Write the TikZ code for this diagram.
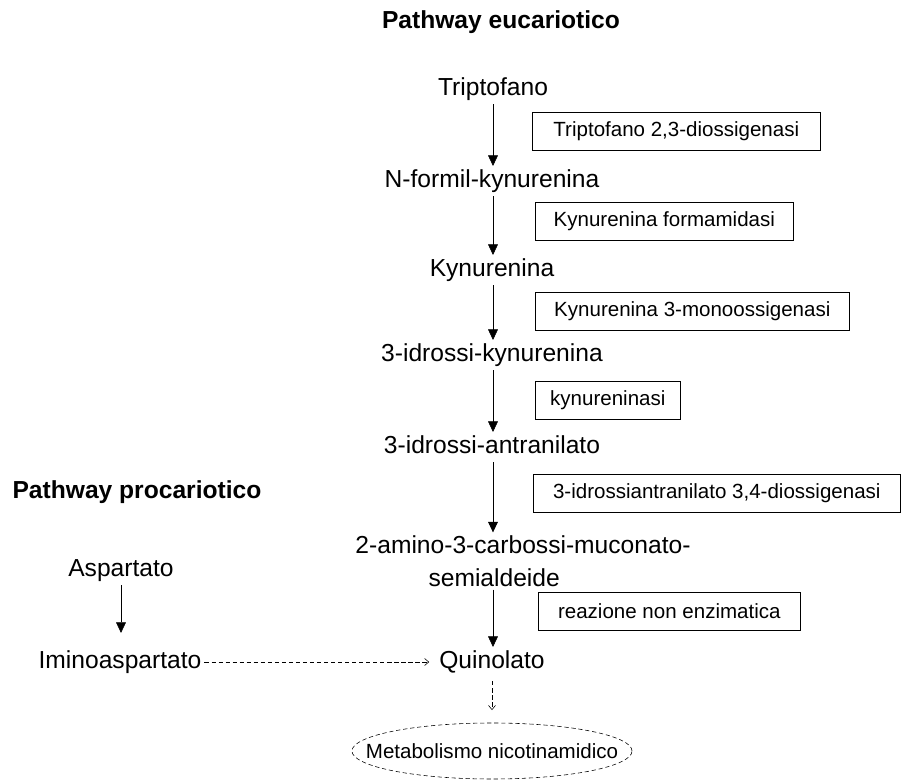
\documentclass[tikz,border=0pt]{standalone}
\usepackage{fontspec}
\setmainfont{Liberation Sans}
\usetikzlibrary{arrows.meta,shapes.geometric}

\begin{document}
\begin{tikzpicture}[x=0.025cm,y=-0.025cm,
    metab/.style={inner sep=2pt,text height=13pt,text depth=4pt,
                  font=\fontsize{17.5}{23}\selectfont},
    twoline/.style={inner sep=2pt,align=center,font=\fontsize{17.5}{23.5}\selectfont},
    title/.style={font=\fontsize{17.5}{21}\selectfont\bfseries},
    enzyme/.style={draw,thin,anchor=west,minimum height=.95cm,inner xsep=8pt,
                   font=\fontsize{14.6}{17}\selectfont},
    conv/.style={thin,-{Triangle[length=7.5pt,width=7pt]}},
    spont/.style={thin,dash pattern=on 3pt off 2pt,-{Straight Barb[length=3pt,width=5pt]}}
  ]
    \useasboundingbox (0,0) rectangle (902,782);
    \node[title] (euk) at (501,22) {Pathway eucariotico};
    \node[title] (prok) at (137,492) {Pathway procariotico};
    % eucaryotic chain
    \node[metab] (trp) at (493,89) {Triptofano};
    \node[metab] (nfk) at (492,181) {N-formil-kynurenina};
    \node[metab] (kyn) at (492,270) {Kynurenina};
    \node[metab] (hk) at (492,355) {3-idrossi-kynurenina};
    \node[metab] (haa) at (492,447) {3-idrossi-antranilato};
    \node[twoline] (acms) at (523,561) {2-amino-3-carbossi-muconato-\\\hspace*{-41pt}semialdeide};
    \node[metab] (quin) at (492,662) {Quinolato};
    % enzymes
    \node[enzyme,minimum width=7.2cm] (tdo) at (532,131) {Triptofano 2,3-diossigenasi};
    \node[enzyme,minimum width=6.45cm] (kfa) at (535,221) {Kynurenina formamidasi};
    \node[enzyme,minimum width=7.85cm] (kmo) at (535,311) {Kynurenina 3-monoossigenasi};
    \node[enzyme,minimum width=3.625cm] (kynu) at (535,400) {kynureninasi};
    \node[enzyme,minimum width=9.175cm] (haao) at (533,493) {3-idrossiantranilato 3,4-diossigenasi};
    \node[enzyme,minimum width=6.55cm] (nonenz) at (538,611) {reazione non enzimatica};
    % procaryotic branch
    \node[metab] (asp) at (121,570) {Aspartato};
    \node[metab] (imino) at (120,662) {Iminoaspartato};
    \node[ellipse,draw,thin,dash pattern=on 3pt off 2pt,minimum width=7cm,minimum height=1.4cm,
          inner xsep=-20pt,inner ysep=0pt,font=\fontsize{14.6}{17}\selectfont] (nam) at (492,751) {Metabolismo nicotinamidico};
    \foreach \a/\b in {trp/nfk,nfk/kyn,kyn/hk,hk/haa,haa/acms,acms/quin}
      \draw[conv] (\a.south -| trp) -- (\b.north -| trp);
    \draw[conv,shorten >=10pt] (asp.south) -- (asp.south |- imino.north);
    \draw[spont,shorten >=5pt] (imino) -- (quin);
    \draw[spont,shorten <=3pt,shorten >=9pt] (quin.south -| nam) -- (nam);
\end{tikzpicture}
\end{document}
